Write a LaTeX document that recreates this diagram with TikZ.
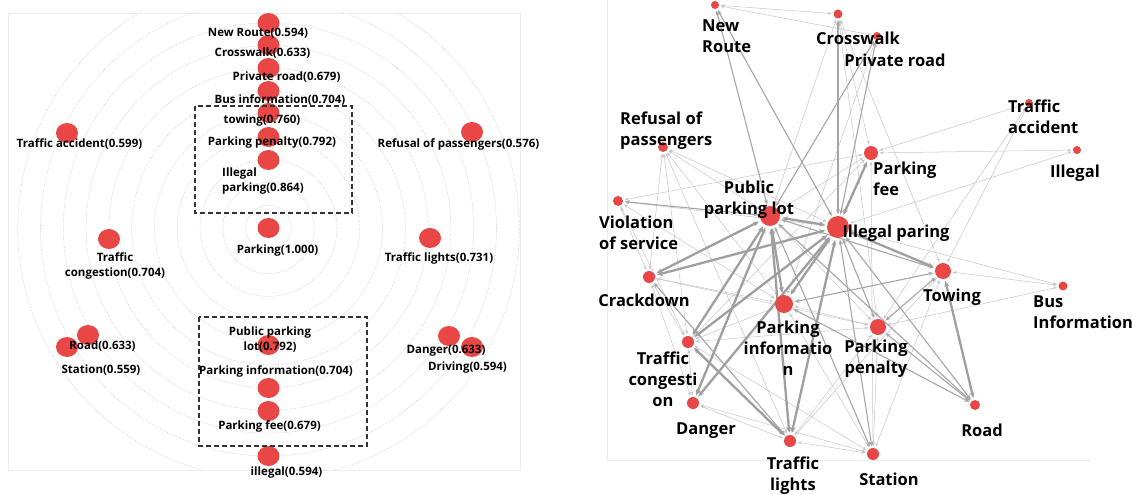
\documentclass[tikz,border=0pt]{standalone}
\usepackage{fontspec}
\setmainfont{Open Sans}
\usetikzlibrary{arrows.meta,shapes.geometric,backgrounds}
\definecolor{dotred}{RGB}{233,70,70}
\tikzset{
  ring/.style={draw=gray!40, densely dotted, line width=0.6pt},
  frame/.style={draw=gray!14, line width=0.6pt},
  hlbox/.style={draw=black!80, line width=1.2pt, dash pattern=on 5pt off 3pt},
  ldot/.style={ellipse, fill=dotred, inner sep=0pt, minimum width=22pt, minimum height=20pt},
  rdot/.style={circle, fill=dotred, inner sep=0pt, minimum size=#1},
  llab/.style={inner sep=0pt, font=\fontsize{11.5}{15}\selectfont\bfseries, align=center},
  rlab/.style={inner sep=0pt, font=\fontsize{16.5}{21}\selectfont\bfseries, align=center},
  rlabl/.style={inner sep=0pt, font=\fontsize{16.5}{21}\selectfont\bfseries, align=left, anchor=west},
  tedge/.style={draw=gray!45, line width=0.5pt, arrows={Stealth[length=4pt,width=3pt]-Stealth[length=4pt,width=3pt]}, shorten >=1.5pt, shorten <=1.5pt},
  medge/.style={draw=gray!70, line width=1.1pt, arrows={Stealth[length=5pt,width=4pt]-Stealth[length=5pt,width=4pt]}, shorten >=1.5pt, shorten <=1.5pt},
  kedge/.style={draw=gray!75, line width=2.3pt, arrows={Stealth[length=6pt,width=5pt]-Stealth[length=6pt,width=5pt]}, shorten >=2pt, shorten <=2pt},
}
\begin{document}
\begin{tikzpicture}[x=1pt,y=-1pt]
\useasboundingbox (0,0) rectangle (1132,495);

% ---------------- left panel ----------------
\begin{scope}
  \clip (8,13) rectangle (520,470);
  \foreach \r in {22.8,45.6,68.4,91.2,114,136.8,159.6,182.4,205.2,228,250.8}
    \draw[ring] (268.5,228) circle[radius=\r pt];
\end{scope}
\draw[frame] (8,13) rectangle (520,470);

\node[ldot] (lnr) at (268.5,23) {};
\node[ldot] (lcw) at (268.5,45) {};
\node[ldot] (lpr) at (268.5,68) {};
\node[ldot] (lbi) at (268.5,91) {};
\node[ldot] (ltw) at (268.5,113) {};
\node[ldot] (lpp) at (268.5,137) {};
\node[ldot] (lip) at (268.5,160) {};
\node[ldot] (lpk) at (268.5,228) {};
\node[ldot] (lta) at (67,133) {};
\node[ldot] (lrp) at (472,132) {};
\node[ldot] (ltc) at (109,239) {};
\node[ldot] (ltl) at (430,238) {};
\node[ldot] (lrd) at (88,335) {};
\node[ldot] (lst) at (67,347) {};
\node[ldot] (lppl) at (268.5,345) {};
\node[ldot] (lpi) at (268.5,388) {};
\node[ldot] (lpf) at (268.5,411) {};
\node[ldot] (lil) at (268.5,456) {};
\node[ldot] (ldg) at (449,336) {};
\node[ldot] (ldr) at (472,347) {};

\draw[hlbox] (195,106) rectangle (352,213);
\draw[hlbox] (199,317) rectangle (367,446);

\node[llab] (tlnr) at (258,33) {New Route(0.594)};
\node[llab] (tlcw) at (262.5,53) {Crosswalk(0.633)};
\node[llab] (tlpr) at (286.5,77) {Private road(0.679)};
\node[llab] (tlbi) at (280,100) {Bus information(0.704)};
\node[llab] (tltw) at (262,121) {towing(0.760)};
\node[llab] (tlpp) at (272,143) {Parking penalty(0.792)};
\node[llab, align=left, anchor=west] (tlip) at (222,181.5) {Illegal\\parking(0.864)};
\node[llab] (tlpk) at (277.5,251) {Parking(1.000)};
\node[llab] (tlta) at (79.5,144) {Traffic accident(0.599)};
\node[llab] (tlrp) at (458.5,144) {Refusal of passengers(0.576)};
\node[llab] (tltc) at (115,266) {Traffic\\congestion(0.704)};
\node[llab] (tltl) at (439,258) {Traffic lights(0.731)};
\node[llab] (tlrd) at (102.5,346) {Road(0.633)};
\node[llab] (tlst) at (101,370) {Station(0.559)};
\node[llab] (tlppl) at (270,339.5) {Public parking\\lot(0.792)};
\node[llab] (tlpi) at (276,371) {Parking information(0.704)};
\node[llab] (tlpf) at (269.5,426) {Parking fee(0.679)};
\node[llab] (tlil) at (286.5,473) {illegal(0.594)};
\node[llab] (tldg) at (446,351) {Danger(0.633)};
\node[llab] (tldr) at (467.5,368) {Driving(0.594)};

% ---------------- right panel ----------------
\draw[frame] (607,0) -- (607,460) -- (1090,460);

\node[rdot=8pt]  (nr)  at (715,5) {};
\node[rdot=9pt]  (cw)  at (838,14) {};
\node[rdot=8pt]  (pr)  at (877,36) {};
\node[rdot=8pt]  (ta)  at (1029,103) {};
\node[rdot=8pt]  (il)  at (1077,150) {};
\node[rdot=10pt] (rp)  at (663,147) {};
\node[rdot=14pt] (pf)  at (871,153) {};
\node[rdot=20pt] (ppl) at (770,216) {};
\node[rdot=10pt] (vs)  at (618,201) {};
\node[rdot=22pt] (ip)  at (838,227) {};
\node[rdot=12pt] (cd)  at (649,277) {};
\node[rdot=16pt] (tw)  at (943,271) {};
\node[rdot=9pt]  (bi)  at (1063,286) {};
\node[rdot=18pt] (pi)  at (784,304) {};
\node[rdot=16pt] (pp)  at (878,327) {};
\node[rdot=12pt] (tc)  at (688,342) {};
\node[rdot=12pt] (dg)  at (693,403) {};
\node[rdot=10pt] (rd)  at (975,405) {};
\node[rdot=12pt] (tl)  at (790,441) {};
\node[rdot=12pt] (st)  at (873,454) {};

\begin{scope}[on background layer]
  \foreach \a/\b in {nr/cw, nr/pr, cw/ppl, cw/pf, cw/tw, pr/pi, ta/pf, il/pf, il/ip,
      ta/tw, ta/pp, rp/cd, rp/tc, rp/ppl, rp/ip, rp/pi, rp/tl, vs/pf, vs/cd, vs/tc,
      vs/pi, vs/ip, pf/ppl, bi/tw, bi/pp, bi/ip, cd/tc, cd/dg, cd/pi, cd/pp, tc/pp,
      tc/pi, tc/dg, dg/tl, dg/st, pi/pp, pi/st, pp/st, pp/tl, tw/st, tw/tl, pf/st,
      tc/st, cw/pp, pf/tc, ppl/pp, tl/st}
    \draw[tedge] (\a) -- (\b);
  \foreach \a/\b in {nr/ppl, nr/ip, cw/ip, pr/ppl, pr/ip, vs/ppl, pi/tw, pp/tw, pp/rd,
      ip/rd, pi/rd, cd/tl, ip/st, ppl/st, ip/pp, ppl/tw, ppl/rd}
    \draw[medge] (\a) -- (\b);
  \foreach \a/\b in {ppl/ip, pf/ip, cd/ppl, cd/ip, tc/ppl, tc/ip, dg/ppl, dg/ip, ppl/tl,
      ip/tl, ppl/pi, ip/pi, tc/tl, ip/tw, tw/rd}
    \draw[kedge] (\a) -- (\b);
\end{scope}

\node[rlabl] (tnr)  at (702,36.5) {New\\Route};
\node[rlab]  (tcw)  at (858,38) {Crosswalk};
\node[rlab]  (tpr)  at (895,60) {Private road};
\node[rlabl] (tta)  at (1008,117) {Traffic\\accident};
\node[rlab]  (til)  at (1075,173) {Illegal};
\node[rlabl] (trp)  at (620,131) {Refusal of\\passengers};
\node[rlabl] (tpf)  at (873,178.5) {Parking\\fee};
\node[rlab]  (tppl) at (749,199.5) {Public\\parking lot};
\node[rlabl] (tvs)  at (599,232.5) {Violation\\of service};
\node[rlab]  (tip)  at (896,233) {Illegal paring};
\node[rlab]  (tcd)  at (644,300) {Crackdown};
\node[rlab]  (ttw)  at (952,297) {Towing};
\node[rlabl] (tbi)  at (1033,312) {Bus\\Information};
\node[rlab]  (tpi)  at (788,348.5) {Parking\\informatio\\n};
\node[rlab]  (tpp)  at (876,359) {Parking\\penalty};
\node[rlab]  (ttc)  at (663,379.5) {Traffic\\congesti\\on};
\node[rlab]  (tdg)  at (706,431) {Danger};
\node[rlab]  (trd)  at (982,430) {Road};
\node[rlab]  (ttl)  at (793,476) {Traffic\\lights};
\node[rlab]  (tst)  at (889,479) {Station};
\end{tikzpicture}
\end{document}
